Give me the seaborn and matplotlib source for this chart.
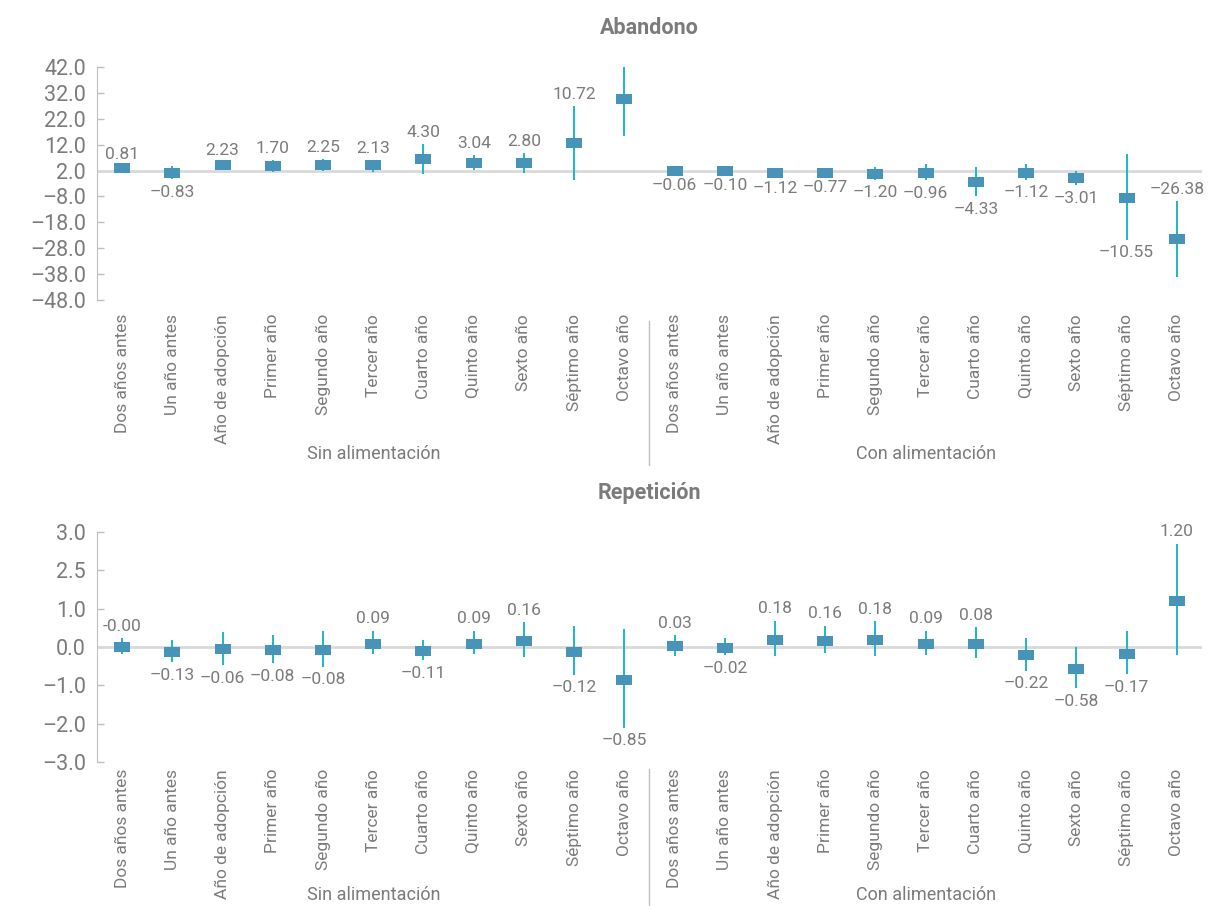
import matplotlib
matplotlib.use("Agg")
import matplotlib.pyplot as plt
import matplotlib.transforms as mtransforms
import seaborn as sns
import numpy as np
import pandas as pd

# ---- Data -------------------------------------------####

periodos = ['Dos años antes', 'Un año antes', 'Año de adopción', 'Primer año', 'Segundo año',
            'Tercer año', 'Cuarto año', 'Quinto año', 'Sexto año', 'Séptimo año', 'Octavo año']
grupos = ['Sin alimentación', 'Con alimentación']

# abandono
aband_sin = [0.81, -0.83, 2.23, 1.70, 2.25, 2.13, 4.30, 3.04, 2.80, 10.72, 27.70]
aband_sin_lo = [-0.1, -3.3, 1.3, -0.5, -0.3, -0.5, -1.3, 0.2, -0.9, -3.6, 13.5]
aband_sin_hi = [1.7, 1.6, 3.2, 4.2, 4.5, 4.2, 10.3, 6.0, 6.8, 25.0, 41.8]
aband_con = [-0.06, -0.10, -1.12, -0.77, -1.20, -0.96, -4.33, -1.12, -3.01, -10.55, -26.38]
aband_con_lo = [-0.9, -0.9, -1.9, -1.6, -3.5, -3.7, -10.0, -3.5, -5.6, -26.7, -41.0]
aband_con_hi = [0.8, 0.7, -0.3, 0.1, 1.2, 2.5, 1.4, 2.5, -0.3, 6.3, -11.8]

# repeticion
rep_sin = [-0.001, -0.13, -0.06, -0.08, -0.08, 0.09, -0.11, 0.09, 0.16, -0.12, -0.85]
rep_sin_lo = [-0.17, -0.40, -0.47, -0.43, -0.52, -0.17, -0.34, -0.19, -0.27, -0.72, -2.11]
rep_sin_hi = [0.23, 0.19, 0.40, 0.32, 0.42, 0.43, 0.18, 0.43, 0.65, 0.56, 0.46]
rep_con = [0.03, -0.02, 0.18, 0.16, 0.18, 0.09, 0.08, -0.22, -0.58, -0.17, 1.20]
rep_con_lo = [-0.23, -0.22, -0.24, -0.15, -0.23, -0.22, -0.28, -0.62, -1.07, -0.71, -0.22]
rep_con_hi = [0.32, 0.23, 0.69, 0.56, 0.67, 0.43, 0.51, 0.23, 0.0, 0.41, 2.70]

# axis tick labels (as printed in the original)
aband_yticks = [40, 30, 20, 10, 0, -10, -20, -30, -40, -50]
aband_yticklabels = ['42.0', '32.0', '22.0', '12.0', '2.0', '–8.0', '–18.0', '–28.0', '–38.0', '–48.0']
rep_yticks = [3, 2, 1, 0, -1, -2, -3]
rep_yticklabels = ['3.0', '2.5', '1.0', '0.0', '–1.0', '–2.0', '–3.0']

# ---- Style -------------------------------------------####

sns.set_style('white')
plt.rcParams['font.family'] = ['Roboto', 'DejaVu Sans']
gray = '#7b7b7b'
marker_color = '#4893b8'
ci_color = '#1cb8c6'
rect = [(-1, -0.6), (1, -0.6), (1, 0.6), (-1, 0.6)]


def build_df(sin, sin_lo, sin_hi, con, con_lo, con_hi):
    df = pd.DataFrame({
        'periodo': periodos * 2,
        'grupo': [grupos[0]] * len(periodos) + [grupos[1]] * len(periodos),
        'valor': sin + con,
        'lo': sin_lo + con_lo,
        'hi': sin_hi + con_hi,
    })
    df['pos'] = np.arange(len(df))
    return df


def fmt(v):
    s = f'{v:.2f}'
    if abs(v) >= 0.005:
        s = s.replace('-', '–')
    return s


def plot_panel(ax, df, title, yticks, yticklabels, ylim, label_above, xpad, grp_y, sep_y):
    ax.axhline(0, color='#d9d9d9', lw=2, zorder=1)
    ax.vlines(df['pos'], df['lo'], df['hi'], color=ci_color, lw=1.4, zorder=2)
    sns.scatterplot(data=df, x='pos', y='valor', marker=rect, s=118, color=marker_color,
                    linewidth=0, ax=ax, zorder=3, legend=False)

    # value labels
    for i, row in df.iterrows():
        if label_above[i]:
            ax.annotate(fmt(row['valor']), (row['pos'], row['hi']), xytext=(0, 3),
                        textcoords='offset points', ha='center', va='bottom', fontsize=12.5, color=gray)
        else:
            ax.annotate(fmt(row['valor']), (row['pos'], row['lo']), xytext=(0, -4),
                        textcoords='offset points', ha='center', va='top', fontsize=12.5, color=gray)

    ax.set_xlim(-0.5, len(df) - 0.5)
    ax.set_ylim(*ylim)
    ax.set_yticks(yticks)
    ax.set_yticklabels(yticklabels, fontsize=15.5, color=gray)
    ax.set_xticks(df['pos'])
    ax.set_xticklabels(df['periodo'], rotation=90, fontsize=12.5, color=gray)
    ax.tick_params(axis='y', direction='in', length=5, color='#bfbfbf', width=1, left=True, pad=8)
    ax.tick_params(axis='x', length=0, pad=xpad)
    for s in ['top', 'right', 'bottom']:
        ax.spines[s].set_visible(False)
    ax.spines['left'].set_color('#bfbfbf')
    ax.set_xlabel('')
    ax.set_ylabel('')
    ax.set_title(title, fontsize=15.5, fontweight='bold', color=gray, pad=24)

    trans = mtransforms.blended_transform_factory(ax.transData, ax.transAxes)
    n = len(periodos)
    for k, g in enumerate(grupos):
        ax.text(k * n + (n - 1) / 2, grp_y, g, transform=trans, ha='center', va='center',
                fontsize=13, color=gray)
    ax.plot([n - 0.5, n - 0.5], sep_y, transform=trans, color='#bfbfbf', lw=1, clip_on=False)


# ---- Figure -------------------------------------------####

fig = plt.figure(figsize=(12.19, 9.06), dpi=100)
ax1 = fig.add_axes([0.0796, 1 - 300 / 906, 0.9064, 233 / 906])
ax2 = fig.add_axes([0.0796, 1 - 762 / 906, 0.9064, 230 / 906])

df_aband = build_df(aband_sin, aband_sin_lo, aband_sin_hi, aband_con, aband_con_lo, aband_con_hi)
df_rep = build_df(rep_sin, rep_sin_lo, rep_sin_hi, rep_con, rep_con_lo, rep_con_hi)

above_aband = [v >= 0 for v in df_aband['valor']]
above_aband[21] = True
above_rep = [v >= 0 for v in df_rep['valor']]
above_rep[0] = True

plot_panel(ax1, df_aband, 'Abandono', aband_yticks, aband_yticklabels, (-50, 40), above_aband,
           xpad=10, grp_y=-0.66, sep_y=[-0.09, -0.71])
plot_panel(ax2, df_rep, 'Repetición', rep_yticks, rep_yticklabels, (-3, 3), above_rep,
           xpad=5, grp_y=-0.58, sep_y=[-0.03, -0.62])

fig.savefig('out.png', dpi=100)
